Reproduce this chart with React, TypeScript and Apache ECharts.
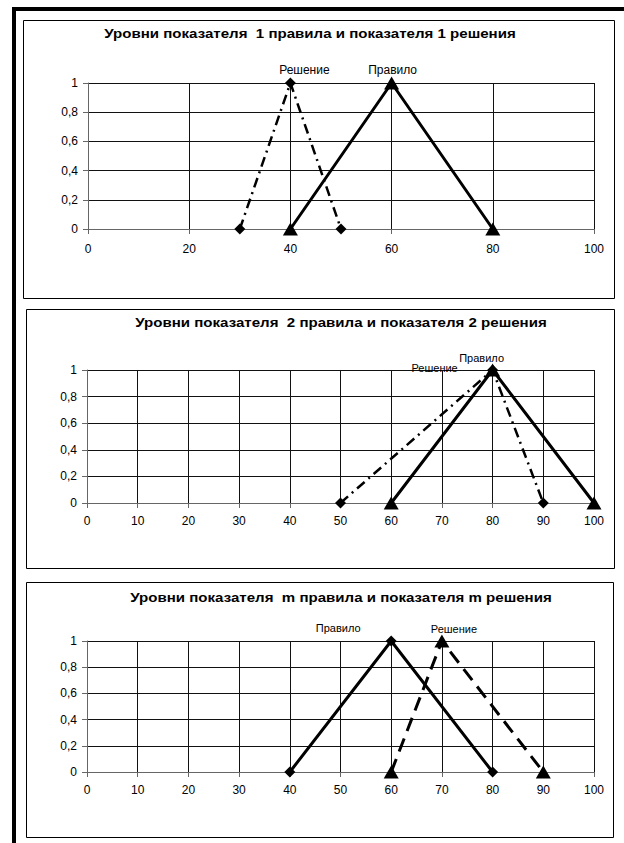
import React, { useEffect, useRef } from "react";
import * as echarts from "echarts";

const FONT = "'Liberation Sans', Arial, sans-serif";

// Chart titles
const titles = [
  "Уровни показателя  1 правила и показателя 1 решения",
  "Уровни показателя  2 правила и показателя 2 решения",
  "Уровни показателя  m правила и показателя m решения",
];

// Chart 1
const c1RuleX = [40, 60, 80];
const c1RuleY = [0, 1, 0];
const c1DecX = [30, 40, 50];
const c1DecY = [0, 1, 0];
const c1XInterval = 20;

// Chart 2
const c2RuleX = [60, 80, 100];
const c2RuleY = [0, 1, 0];
const c2DecX = [50, 80, 90];
const c2DecY = [0, 1, 0];
const c2XInterval = 10;

// Chart 3
const c3RuleX = [40, 60, 80];
const c3RuleY = [0, 1, 0];
const c3DecX = [60, 70, 90];
const c3DecY = [0, 1, 0];
const c3XInterval = 10;

const ruleName = "Правило";
const decName = "Решение";

const yMin = 0;
const yMax = 1;
const yInterval = 0.2;
const xMin = 0;
const xMax = 100;

function makeData(xs: number[], ys: number[], labelText: string, offset: number[], fontSize: number) {
  let peak = 0;
  ys.forEach((y, i) => {
    if (y > ys[peak]) peak = i;
  });
  return xs.map((x, i) => {
    const item: any = { value: [x, ys[i]] };
    if (i === peak) {
      item.label = {
        show: true,
        formatter: labelText,
        position: "inside",
        offset,
        color: "#000",
        fontSize,
        fontFamily: FONT,
      };
    }
    return item;
  });
}

export default function App() {
  const ref = useRef<HTMLDivElement>(null);

  useEffect(() => {
    if (!ref.current) return;
    const chart = echarts.init(ref.current, undefined, { renderer: "svg" });

    const grids = [
      { left: 88, top: 83, width: 506, height: 146 },
      { left: 87, top: 370, width: 507, height: 133 },
      { left: 87, top: 641, width: 507, height: 131 },
    ];
    const intervals = [c1XInterval, c2XInterval, c3XInterval];
    const xMargins = [14, 12, 12];

    const xAxes = grids.map((_, i) => ({
      type: "value",
      gridIndex: i,
      min: xMin,
      max: xMax,
      interval: intervals[i],
      axisLine: { show: true, onZero: false, lineStyle: { color: "#666", width: 1 } },
      axisTick: { show: true, inside: false, length: 5, lineStyle: { color: "#666" } },
      axisLabel: { color: "#000", fontSize: 12, fontFamily: FONT, margin: xMargins[i] },
      splitLine: { show: true, lineStyle: { color: "#111", width: 1 } },
    }));

    const yAxes = grids.map((_, i) => ({
      type: "value",
      gridIndex: i,
      min: yMin,
      max: yMax,
      interval: yInterval,
      axisLine: { show: true, lineStyle: { color: "#666", width: 1 } },
      axisTick: { show: true, inside: false, length: 5, lineStyle: { color: "#666" } },
      axisLabel: {
        color: "#000",
        fontSize: 12,
        fontFamily: FONT,
        margin: 10,
        formatter: (v: number) => String(+v.toFixed(1)).replace(".", ","),
      },
      splitLine: { show: true, lineStyle: { color: "#111", width: 1 } },
    }));

    const solid = { color: "#000", width: 3, type: "solid" };
    const dashDot = { color: "#000", width: 2.5, type: [10, 5, 2, 5] };
    const dashed = { color: "#000", width: 3, type: [14, 8] };

    const series: any[] = [
      {
        type: "line",
        name: decName,
        xAxisIndex: 0,
        yAxisIndex: 0,
        data: makeData(c1DecX, c1DecY, decName, [14, -13], 12),
        symbol: "diamond",
        symbolSize: 11,
        itemStyle: { color: "#000" },
        lineStyle: dashDot,
      },
      {
        type: "line",
        name: ruleName,
        xAxisIndex: 0,
        yAxisIndex: 0,
        data: makeData(c1RuleX, c1RuleY, ruleName, [1, -13], 12),
        symbol: "triangle",
        symbolSize: [15, 13],
        itemStyle: { color: "#000" },
        lineStyle: solid,
      },
      {
        type: "line",
        name: decName,
        xAxisIndex: 1,
        yAxisIndex: 1,
        data: makeData(c2DecX, c2DecY, decName, [-58, -2], 11),
        symbol: "diamond",
        symbolSize: 11,
        itemStyle: { color: "#000" },
        lineStyle: dashDot,
      },
      {
        type: "line",
        name: ruleName,
        xAxisIndex: 1,
        yAxisIndex: 1,
        data: makeData(c2RuleX, c2RuleY, ruleName, [-11, -12], 11),
        symbol: "triangle",
        symbolSize: [15, 13],
        itemStyle: { color: "#000" },
        lineStyle: solid,
      },
      {
        type: "line",
        name: decName,
        xAxisIndex: 2,
        yAxisIndex: 2,
        data: makeData(c3DecX, c3DecY, decName, [12, -12], 11),
        symbol: "triangle",
        symbolSize: [15, 13],
        itemStyle: { color: "#000" },
        lineStyle: dashed,
      },
      {
        type: "line",
        name: ruleName,
        xAxisIndex: 2,
        yAxisIndex: 2,
        data: makeData(c3RuleX, c3RuleY, ruleName, [-53, -13], 11),
        symbol: "diamond",
        symbolSize: 11,
        itemStyle: { color: "#000" },
        lineStyle: solid,
      },
    ];

    const panelRects = [
      { x: 23.5, y: 20.5, w: 591, h: 278 },
      { x: 26.5, y: 309.5, w: 588, h: 259 },
      { x: 26.5, y: 582.5, w: 587, h: 255 },
    ];
    const titlePos = [
      { x: 310, y: 33 },
      { x: 341, y: 322 },
      { x: 341, y: 597 },
    ];

    const graphic: any[] = [
      { type: "rect", shape: { x: 12, y: 7, width: 4, height: 836 }, style: { fill: "#000" }, silent: true },
      { type: "rect", shape: { x: 12, y: 7, width: 612, height: 4 }, style: { fill: "#000" }, silent: true },
      ...panelRects.map((r) => ({
        type: "rect",
        shape: { x: r.x, y: r.y, width: r.w, height: r.h },
        style: { fill: "none", stroke: "#000", lineWidth: 1 },
        silent: true,
        z: -1,
      })),
      ...titles.map((t, i) => ({
        type: "text",
        x: titlePos[i].x,
        y: titlePos[i].y,
        scaleX: 1.16,
        style: {
          text: t,
          fontSize: 13,
          fontWeight: "bold",
          fontFamily: FONT,
          fill: "#000",
          textAlign: "center",
          textVerticalAlign: "middle",
        },
        silent: true,
      })),
    ];

    chart.setOption({
      animation: false,
      backgroundColor: "#fff",
      grid: grids,
      xAxis: xAxes,
      yAxis: yAxes,
      series,
      graphic,
    });

    return () => chart.dispose();
  }, []);

  return (
    <div
      ref={ref}
      style={{ position: "absolute", left: 0, top: 0, width: 624, height: 843, background: "#fff" }}
    />
  );
}
